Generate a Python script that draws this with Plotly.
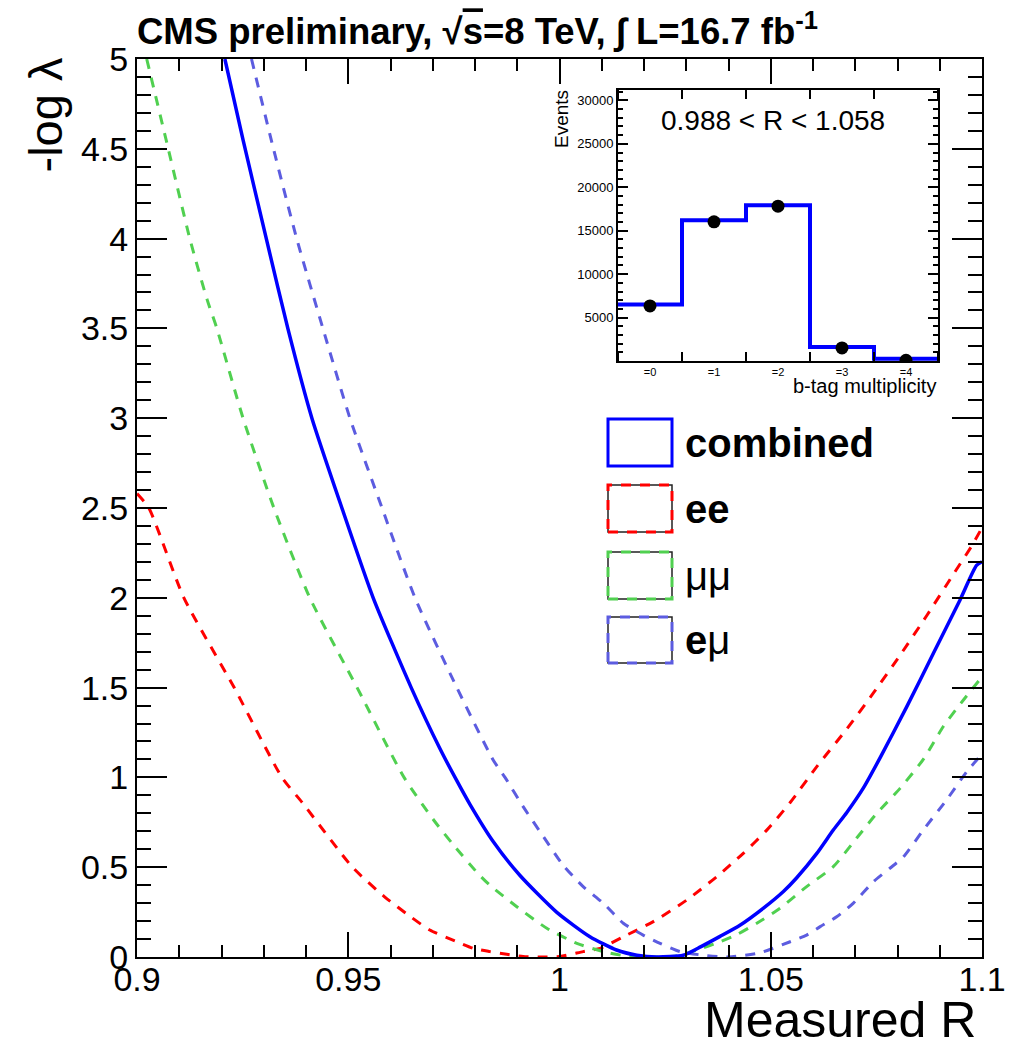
import plotly.graph_objects as go

# ---------------- data ----------------
comb_R = [0.9208, 0.9251, 0.9308, 0.9357, 0.9414, 0.9485, 0.9559, 0.9649, 0.9716, 0.9755,
          0.9788, 0.9843, 0.9906, 0.9993, 1.0072, 1.0135, 1.0183, 1.0230, 1.0293,
          1.0335, 1.0380, 1.0427, 1.0482, 1.0530, 1.0561, 1.0609, 1.0648, 1.0680, 1.0719,
          1.0759, 1.0822, 1.0885, 1.0948, 1.0987, 1.1000]
comb_v = [5.00, 4.55, 3.98, 3.50, 3.00, 2.50, 2.00, 1.50, 1.165, 0.99,
          0.85, 0.643, 0.455, 0.250, 0.113, 0.039, 0.010, 0.000, 0.010,
          0.058, 0.115, 0.177, 0.271, 0.365, 0.440, 0.577, 0.707, 0.805, 0.940,
          1.110, 1.394, 1.691, 1.988, 2.180, 2.200]

ee_R = [0.9000, 0.9028, 0.9111, 0.9230, 0.9343, 0.9391, 0.9510, 0.9586, 0.9650, 0.9693,
        0.9757, 0.9796, 0.9835, 0.9875, 0.9914, 0.9960, 1.0001, 1.0056, 1.0096, 1.0151,
        1.0222, 1.0301, 1.0372, 1.0435, 1.0490, 1.0546, 1.0609, 1.0680, 1.0743, 1.0806,
        1.0869, 1.0932, 1.0976, 1.1000]
ee_v = [2.58, 2.50, 2.00, 1.50, 1.00, 0.86, 0.50, 0.335, 0.22, 0.15,
        0.085, 0.048, 0.030, 0.015, 0.003, 0.000, 0.003, 0.030, 0.048, 0.113,
        0.197, 0.317, 0.447, 0.577, 0.705, 0.860, 1.060, 1.270, 1.470, 1.680,
        1.900, 2.130, 2.290, 2.390]

mm_R = [0.9023, 0.9074, 0.9125, 0.9166, 0.9189, 0.9251, 0.9324, 0.9409, 0.9521, 0.9632,
        0.9703, 0.9749, 0.9807, 0.9835, 0.9899, 0.9970, 1.0041, 1.0104, 1.0159, 1.0220,
        1.0277, 1.0325, 1.0380, 1.0420, 1.0467, 1.0522, 1.0585, 1.0648, 1.0703, 1.0751,
        1.0806, 1.0861, 1.0908, 1.0956, 1.1000]
mm_v = [5.00, 4.50, 4.00, 3.66, 3.50, 3.00, 2.50, 2.00, 1.50, 1.00,
        0.76, 0.624, 0.465, 0.400, 0.28, 0.16, 0.076, 0.030, 0.005, 0.000,
        0.005, 0.039, 0.085, 0.125, 0.188, 0.271, 0.392, 0.503, 0.661, 0.800,
        0.939, 1.100, 1.282, 1.431, 1.560]

em_R = [0.9271, 0.9323, 0.9378, 0.9440, 0.9504, 0.9580, 0.9658, 0.9757, 0.9843, 0.9871,
        0.9914, 0.9962, 1.0009, 1.0056, 1.0104, 1.0151, 1.0198, 1.0238, 1.0285, 1.0340,
        1.0400, 1.0475, 1.0546, 1.0585, 1.0617, 1.0656, 1.0695, 1.0743, 1.0782, 1.0814,
        1.0861, 1.0916, 1.0964, 1.1000]
em_v = [5.00, 4.50, 4.00, 3.50, 3.00, 2.50, 2.00, 1.50, 1.097, 1.00,
        0.837, 0.670, 0.510, 0.392, 0.299, 0.188, 0.122, 0.076, 0.030, 0.010,
        0.000, 0.024, 0.085, 0.122, 0.169, 0.224, 0.299, 0.419, 0.494, 0.558,
        0.707, 0.874, 1.032, 1.130]

x_ticks = [0.9, 0.95, 1.0, 1.05, 1.1]
x_ticktext = ["0.9", "0.95", "1", "1.05", "1.1"]
y_ticks = [0, 0.5, 1, 1.5, 2, 2.5, 3, 3.5, 4, 4.5, 5]
y_ticktext = ["0", "0.5", "1", "1.5", "2", "2.5", "3", "3.5", "4", "4.5", "5"]

# inset: b-tag multiplicity
btag_bins = [0, 1, 2, 3, 4]
btag_labels = ["=0", "=1", "=2", "=3", "=4"]
btag_mc = [6500, 16210, 17940, 1610, 270]
btag_data = [6340, 16020, 17820, 1500, 80]
inset_y_ticks = [5000, 10000, 15000, 20000, 25000, 30000]

legend_names = ["<b>combined</b>", "<b>ee</b>", "μμ", "<b>e</b>μ"]

# ---------------- styling ----------------
OFF = 8                      # page body margin of the html page
W, H = 1015 - OFF, 1049 - OFF
FONT = "Liberation Sans, Arial, Helvetica, sans-serif"
C_COMB = "#0000ff"
C_EE = "#ff0000"
C_MM = "#50d050"
C_EM = "#5c5ce0"
DASH = "10px,9px"


def px(x):
    return (x - OFF) / W


def py(y):
    return 1 - (y - OFF) / H


fig = go.Figure()

for xs, ys, col, dsh, wd in [(ee_R, ee_v, C_EE, DASH, 3), (mm_R, mm_v, C_MM, DASH, 3),
                             (em_R, em_v, C_EM, DASH, 3), (comb_R, comb_v, C_COMB, "solid", 3.5)]:
    fig.add_trace(go.Scatter(x=xs, y=ys, mode="lines",
                             line=dict(color=col, width=wd, dash=dsh, shape="spline", smoothing=0.6),
                             xaxis="x", yaxis="y", showlegend=False, cliponaxis=True))

# inset histogram (step outline from bin edge to bin edge)
hx = [btag_bins[0] - 0.5] + btag_bins + [btag_bins[-1] + 0.5]
hy = [btag_mc[0]] + btag_mc + [btag_mc[-1]]
fig.add_trace(go.Scatter(x=hx, y=hy, mode="lines", line=dict(color=C_COMB, width=4, shape="hvh"),
                         xaxis="x2", yaxis="y2", showlegend=False))
fig.add_trace(go.Scatter(x=btag_bins, y=btag_data, mode="markers",
                         marker=dict(color="black", size=13, symbol="circle"),
                         xaxis="x2", yaxis="y2", showlegend=False))

axis_common = dict(showline=True, linecolor="black", linewidth=2, mirror="ticks", showgrid=False,
                   zeroline=False, ticks="inside", tickcolor="black", tickwidth=2, automargin=False)

fig.update_layout(
    width=W, height=H,
    margin=dict(l=0, r=0, t=0, b=0, pad=0, autoexpand=False),
    paper_bgcolor="white", plot_bgcolor="white",
    font=dict(family=FONT, color="black"),
    xaxis=dict(domain=[px(137), px(982)], range=[0.9, 1.1], tickmode="array",
               tickvals=x_ticks, ticktext=x_ticktext, ticklen=25, ticklabelstandoff=-9,
               minor=dict(tickmode="linear", tick0=0.9, dtick=0.01, ticks="inside", ticklen=12,
                          tickwidth=2, tickcolor="black"),
               tickfont=dict(size=34, family=FONT), anchor="y", **axis_common),
    yaxis=dict(domain=[py(957), py(59)], range=[0, 5], tickmode="array",
               tickvals=y_ticks, ticktext=y_ticktext, ticklen=30,
               minor=dict(tickmode="linear", tick0=0, dtick=0.1, ticks="inside", ticklen=14,
                          tickwidth=2, tickcolor="black"),
               tickfont=dict(size=34, family=FONT), anchor="x", **axis_common),
    xaxis2=dict(domain=[px(618), px(938)], range=[-0.5, 4.5], tickmode="array",
                tickvals=btag_bins, ticktext=btag_labels, ticklen=0,
                minor=dict(tickmode="linear", tick0=0.5, dtick=1, ticks="inside", ticklen=9,
                           tickwidth=2, tickcolor="black"),
                tickfont=dict(size=11, family=FONT), anchor="y2",
                **{**axis_common, "ticks": ""}),
    yaxis2=dict(domain=[py(361), py(90)], range=[0, 31200], tickmode="array",
                tickvals=inset_y_ticks, ticktext=[str(v) for v in inset_y_ticks], ticklen=10,
                minor=dict(tickmode="linear", tick0=0, dtick=1000, ticks="inside", ticklen=5,
                           tickwidth=1.5, tickcolor="black"),
                tickfont=dict(size=13, family=FONT), anchor="x2", **axis_common),
)

# inset white background (drawn under traces)
fig.add_shape(type="rect", xref="paper", yref="paper", x0=px(618), x1=px(938), y0=py(361), y1=py(90),
              fillcolor="white", line=dict(width=0), layer="below")

ann = []
ann.append(dict(text="<b>CMS preliminary, √<span style='text-decoration:overline'>s</span>=8 TeV, ∫ L=16.7 fb<sup>-1</sup></b>",
                x=px(135), y=py(30), xanchor="left", yanchor="middle", font=dict(size=36.5)))
ann.append(dict(text="-log λ", x=px(45), y=py(56), xanchor="center", yanchor="top",
                textangle=-90, font=dict(size=47)))
ann.append(dict(text="Measured R", x=px(978), y=py(1020), xanchor="right", yanchor="middle",
                font=dict(size=50)))
ann.append(dict(text="0.988 < R < 1.058", x=px(773), y=py(120), xanchor="center", yanchor="middle",
                font=dict(size=28)))
ann.append(dict(text="Events", x=px(562), y=py(88), xanchor="center", yanchor="top",
                textangle=-90, font=dict(size=19)))
ann.append(dict(text="b-tag multiplicity", x=px(938), y=py(386), xanchor="right", yanchor="middle",
                font=dict(size=20)))

# legend
leg_colors = [C_COMB, C_EE, C_MM, C_EM]
leg_dash = ["solid", DASH, DASH, DASH]
leg_boxes = [(419, 466), (485, 532), (552, 599), (617, 663)]
for name, col, dsh, (t, b) in zip(legend_names, leg_colors, leg_dash, leg_boxes):
    if dsh != "solid":
        fig.add_shape(type="rect", xref="paper", yref="paper", x0=px(608), x1=px(672), y0=py(b), y1=py(t),
                      line=dict(color="#222222", width=1.5))
    fig.add_shape(type="rect", xref="paper", yref="paper", x0=px(608), x1=px(672), y0=py(b), y1=py(t),
                  line=dict(color=col, width=3, dash=dsh))
    ann.append(dict(text=name, x=px(683), y=py((t + b) / 2), xanchor="left", yanchor="middle",
                    font=dict(size=40)))

for a in ann:
    a.update(xref="paper", yref="paper", showarrow=False)
    a["font"] = dict(family=FONT, color="black", **a["font"])
fig.update_layout(annotations=ann)

fig.write_html("out.html")
